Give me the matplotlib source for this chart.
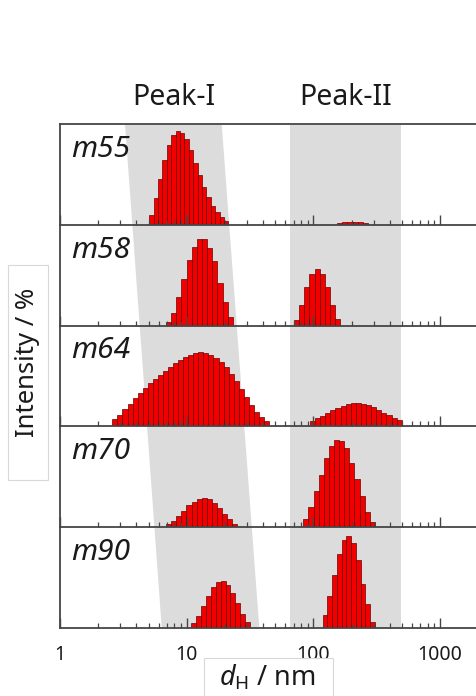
import numpy as np
import matplotlib
matplotlib.use("Agg")
import matplotlib.pyplot as plt
from matplotlib.patches import Polygon, Rectangle
from matplotlib.ticker import LogLocator, NullFormatter, FixedLocator, FixedFormatter

plt.rcParams['font.family'] = ['Noto Sans', 'DejaVu Sans']
plt.rcParams['mathtext.fontset'] = 'custom'
plt.rcParams['mathtext.it'] = 'Noto Sans:italic'
plt.rcParams['mathtext.rm'] = 'Noto Sans'

# ---------------- data ----------------
samples = ["m55", "m58", "m64", "m70", "m90"]

# size range (nm) of each peak's bins (first left edge, last right edge) and intensities
m55_I_range = (5.07, 21.3)
m55_I = [10, 27, 46, 65, 80, 90, 94, 92, 86, 75, 62, 50, 38, 28, 19, 13, 8, 4]
m55_II_range = (152.8, 271.6)
m55_II = [2, 3, 3.5, 3.5, 3, 2]

m58_I_range = (6.87, 23.1)
m58_I = [4, 13, 29, 46, 65, 78, 86, 86, 77, 64, 42, 24, 9]
m58_II_range = (70.6, 162.0)
m58_II = [6, 21, 38, 51, 56, 51, 38, 21, 7]

m64_I_range = (2.59, 44.7)
m64_I = [7, 11, 17, 22, 28, 33, 38, 43, 47, 51, 55, 59, 63, 66, 69, 71, 73, 74,
         73, 71, 68, 64, 59, 52, 45, 37, 29, 21, 14, 9, 5]
m64_II_range = (94.0, 498.0)
m64_II = [5, 8, 10, 13, 16, 18, 20, 22, 23, 23, 22, 21, 19, 16, 13, 11, 8, 6]

m70_I_range = (6.87, 25.1)
m70_I = [3, 6, 11, 16, 22, 25, 28, 29, 28, 24, 19, 13, 8, 3]
m70_II_range = (83.2, 306.0)
m70_II = [8, 20, 36, 52, 68, 80, 86, 85, 78, 64, 48, 31, 15, 5]

m90_I_range = (10.9, 31.6)
m90_I = [4, 11, 21, 31, 40, 45, 46, 42, 34, 24, 13, 5]
m90_II_range = (118.3, 306.0)
m90_II = [12, 31, 52, 73, 87, 91, 84, 67, 43, 23, 5]

peaks = {
    "m55": [(m55_I_range, m55_I), (m55_II_range, m55_II)],
    "m58": [(m58_I_range, m58_I), (m58_II_range, m58_II)],
    "m64": [(m64_I_range, m64_I), (m64_II_range, m64_II)],
    "m70": [(m70_I_range, m70_I), (m70_II_range, m70_II)],
    "m90": [(m90_I_range, m90_I), (m90_II_range, m90_II)],
}

# shaded peak regions (nm): Peak-I band slants (top edge -> bottom edge)
peakI_top = (3.26, 18.9)
peakI_bottom = (6.35, 37.4)
peakII_band = (65.3, 489.0)

xticks = [1, 10, 100, 1000]
xtick_labels = ["1", "10", "100", "1000"]

# ---------------- layout ----------------
W, H = 477, 696
fig = plt.figure(figsize=(W / 100, H / 100), dpi=100)

left_px, right_px = 60, 477
top_px, bot_px = 124.5, 627.5
px_per_dec = 126.7
xmax = 10 ** ((right_px - left_px) / px_per_dec)

L = left_px / W
Wd = (right_px - left_px) / W
B = 1 - bot_px / H
Ht = (bot_px - top_px) / H

spine_c = "#454545"
gray = "#dcdcdc"
text_c = "#1a1a1a"

# background band axes
bg = fig.add_axes([L, B, Wd, Ht], zorder=0)
bg.set_xscale("log")
bg.set_xlim(1, xmax)
bg.set_ylim(0, 1)
bg.axis("off")
bg.add_patch(Polygon([(peakI_top[0], 1), (peakI_top[1], 1),
                      (peakI_bottom[1], 0), (peakI_bottom[0], 0)],
                     closed=True, fc=gray, ec="none"))
bg.add_patch(Polygon([(peakII_band[0], 1), (peakII_band[1], 1),
                      (peakII_band[1], 0), (peakII_band[0], 0)],
                     closed=True, fc=gray, ec="none"))

n = len(samples)
ph = Ht / n
for i, s in enumerate(samples):
    ax = fig.add_axes([L, B + Ht - (i + 1) * ph, Wd, ph], zorder=1)
    ax.set_facecolor("none")
    ax.set_xscale("log")
    ax.set_xlim(1, xmax)
    ax.set_ylim(0, 100)
    for rng, vals in peaks[s]:
        edges = np.logspace(np.log10(rng[0]), np.log10(rng[1]), len(vals) + 1)
        ax.bar(edges[:-1], vals, width=np.diff(edges), align="edge",
               color="#f20000", edgecolor="#6a0000", linewidth=0.5, zorder=1)
    ax.spines["right"].set_visible(False)
    ax.spines["top"].set_visible(i == 0)
    for sp in ["left", "bottom", "top"]:
        ax.spines[sp].set_color(spine_c)
        ax.spines[sp].set_linewidth(1.3)
    ax.set_yticks([])
    ax.xaxis.set_major_locator(FixedLocator(xticks))
    ax.xaxis.set_minor_locator(LogLocator(base=10, subs=np.arange(2, 10)))
    ax.xaxis.set_minor_formatter(NullFormatter())
    ax.tick_params(axis="x", which="major", direction="in", length=7,
                   width=1.0, color=spine_c, labelsize=14, labelcolor=text_c, pad=12.5)
    ax.tick_params(axis="x", which="minor", direction="in", length=3.5,
                   width=0.9, color=spine_c)
    if i < n - 1:
        ax.set_xticklabels([])
    else:
        ax.xaxis.set_major_formatter(FixedFormatter(xtick_labels))
    ax.text(11 / (right_px - left_px), 0.75, s, transform=ax.transAxes,
            fontsize=21.5, style="italic", color=text_c, ha="left", va="center")

# peak titles
fig.text(174 / W, 1 - 97.5 / H, "Peak-I", fontsize=20.5, color=text_c,
         ha="center", va="center")
fig.text(346 / W, 1 - 97.5 / H, "Peak-II", fontsize=20.5, color=text_c,
         ha="center", va="center")

# axis-title boxes
fig.add_artist(Rectangle((8 / W, 1 - 480 / H), 40 / W, 215 / H, transform=fig.transFigure,
                         fc="white", ec="#d8d8d8", lw=0.8, zorder=3))
fig.text(28 / W, 1 - 362 / H, "Intensity / %", rotation=90, fontsize=18.5,
         color=text_c, ha="center", va="center", zorder=4)

fig.add_artist(Rectangle((204 / W, -0.01), 129 / W, (696 - 657.7) / H + 0.01,
                         transform=fig.transFigure, fc="white", ec="#d8d8d8", lw=0.8, zorder=3))
fig.text(267.5 / W, 1 - 678 / H, r"$d_{\mathrm{H}}$ / nm", fontsize=19.5,
         color=text_c, ha="center", va="center", zorder=4)

fig.savefig("out.png", dpi=100)
